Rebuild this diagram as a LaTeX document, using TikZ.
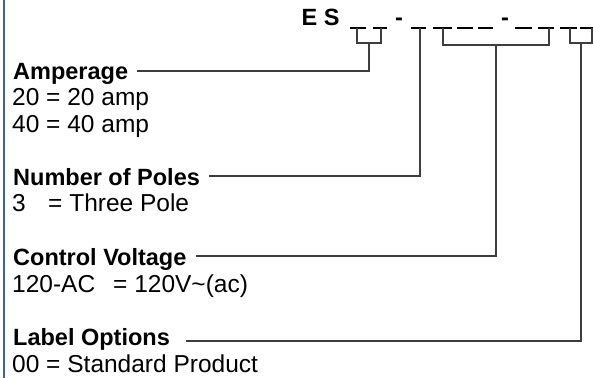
\documentclass[tikz,border=0pt]{standalone}
\usepackage{fontspec}
\setmainfont{Liberation Sans}
\usepackage{tikz}
\usetikzlibrary{calc}
\definecolor{leadgray}{RGB}{62,62,62}
\definecolor{edgeblue}{RGB}{64,96,168}

\begin{document}
\begin{tikzpicture}[x=1pt,y=-1pt,font=\fontsize{24.5}{28}\selectfont]
  \tikzstyle{head}=[inner sep=0, anchor=base west, font=\fontsize{23.5}{28}\selectfont\bfseries]
  \tikzstyle{value}=[inner sep=0, anchor=base west]
  \tikzstyle{slot}=[line width=1.5pt, black]
  \tikzstyle{lead}=[line width=1.5pt, leadgray]
  \useasboundingbox (0,0) rectangle (593,378);
  \draw[edgeblue, line width=2pt] (3.5,0) -- (3.5,378);

  % part number
  \node[head] (es) at (301.5,25) {E S};
  \node[head, anchor=base] (dash1) at (399,25) {-};
  \node[head, anchor=base] (dash2) at (505,25) {-};
  \foreach \a/\b in {350/366, 373/387, 411/426, 433/452, 457/473, 478/493, 515/532, 538/554, 560/577, 580/593}
    \draw[slot] (\a,28) -- (\b,28);

  % option groups
  \node[head] (amp) at (13,79) {Amperage};
  \node[value] (amp20) at (12,105.5) {20 = 20 amp};
  \node[value] (amp40) at (12,132) {40 = 40 amp};

  \node[head] (pol) at (13,185) {Number of Poles};
  \node[value] (pol3) at (12,211.5) {\makebox[36pt][l]{3}= Three Pole};

  \node[head] (cv) at (13,265.5) {Control Voltage};
  \node[value] (cv120) at (12,292) {\makebox[101pt][l]{120-AC}= 120V\textasciitilde(ac)};

  \node[head] (lab) at (13,345.5) {Label Options};
  \node[value] (lab00) at (12,372) {00 = Standard Product};

  % bracket tops
  \coordinate (amp1) at (357,28);
  \coordinate (amp2) at (381,28);
  \coordinate (pol1) at (420,28);
  \coordinate (cv1) at (443,28);
  \coordinate (cv2) at (549,28);
  \coordinate (lab1) at (570,28);
  \coordinate (lab2) at (592,28);
  % lead corners
  \coordinate (ampend) at (369,71);
  \coordinate (polend) at (420,176);
  \coordinate (cvend) at (496,256);
  \coordinate (labend) at (581,341);

  \draw[lead] (amp1) -- ++(0,15) -| (amp2);
  \draw[lead] ($(amp1)!.5!(amp2)+(0,15)$) -- (ampend) -- ($(ampend -| amp.east)+(9pt,0)$);
  \draw[lead] (pol1) -- (polend) -- ($(polend -| pol.east)+(9pt,0)$);
  \draw[lead] (cv1) -- ++(0,17) -| (cv2);
  \draw[lead] ($(cv1)!.5!(cv2)+(0,17)$) -- (cvend) -- ($(cvend -| cv.east)+(9pt,0)$);
  \draw[lead] (lab1) -- ++(0,15) -| (lab2);
  \draw[lead] ($(lab1)!.5!(lab2)+(0,15)$) -- (labend) -- ($(labend -| lab.east)+(16pt,0)$);
\end{tikzpicture}
\end{document}
